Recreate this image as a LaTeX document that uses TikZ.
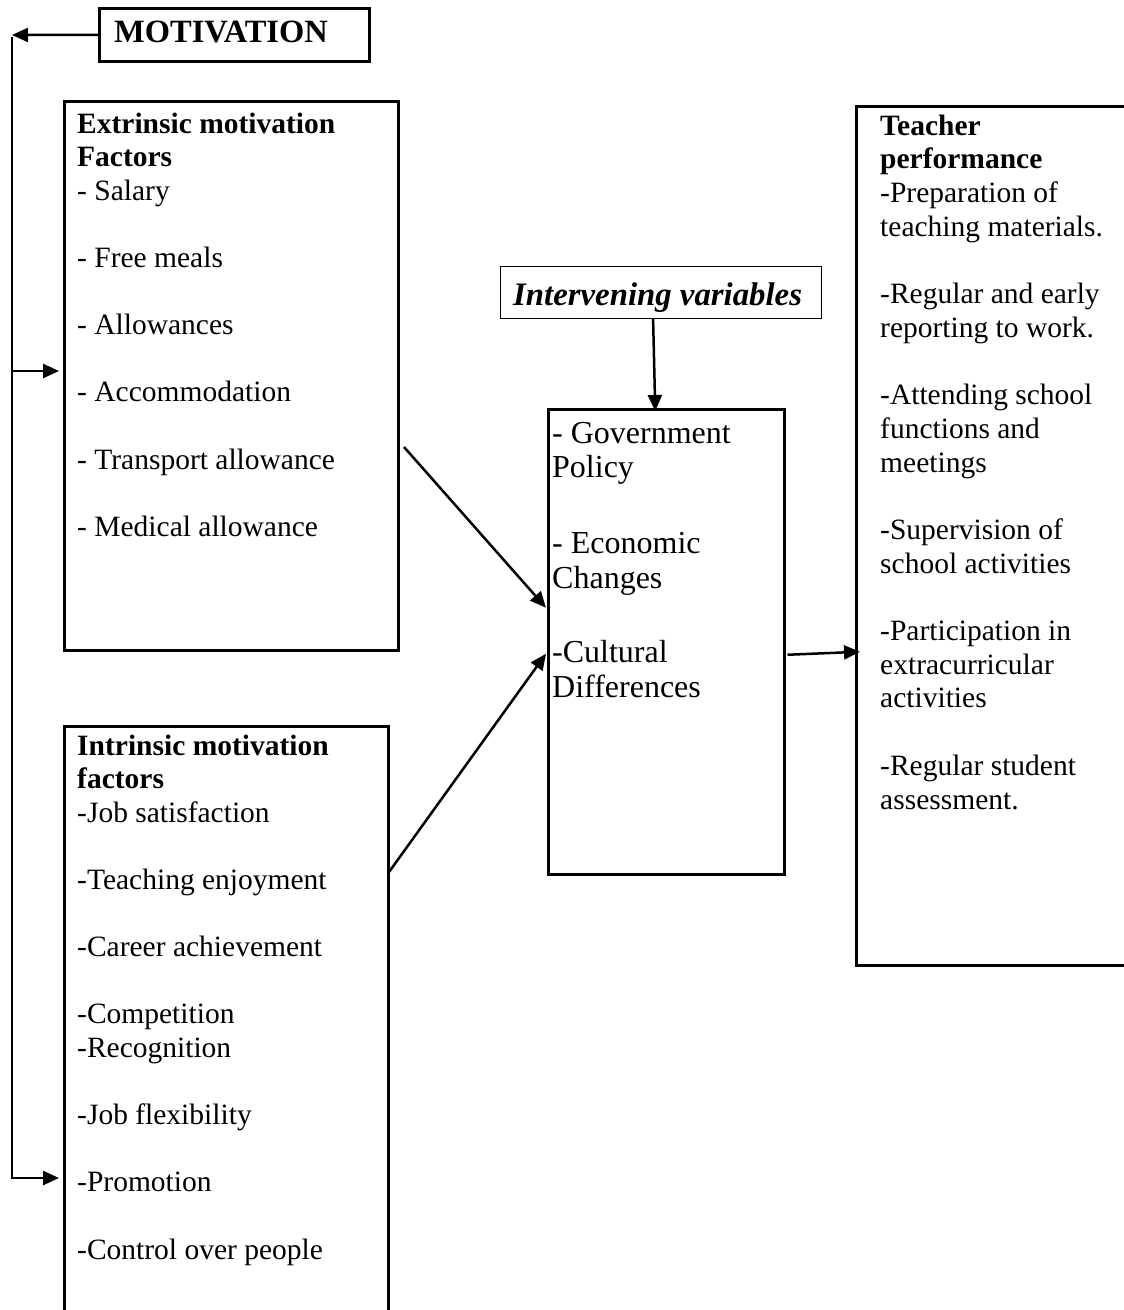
\documentclass[tikz,border=0pt]{standalone}
\usepackage{fontspec}
\setmainfont{Liberation Serif}
\usetikzlibrary{arrows.meta,calc}
\begin{document}
\begin{tikzpicture}[x=1pt,y=-1pt,
  box/.style={draw, line width=2.5pt, inner sep=0pt, anchor=north west},
  thinbox/.style={draw, line width=1.2pt, inner sep=0pt, anchor=north west},
  txt/.style={anchor=base west, inner sep=0pt, font=\fontsize{29.5}{33}\selectfont},
  midtxt/.style={anchor=base west, inner sep=0pt, font=\fontsize{32}{35}\selectfont},
  arr/.style={line width=2.5pt, -{Triangle[length=16pt,width=14pt]}},
  ]
\useasboundingbox (0,0) rectangle (1124,1310);
\clip (0,0) rectangle (1124,1310);

% boxes
\node[box, minimum width=270pt, minimum height=53pt] (mot) at (98,7) {};
\node[box, minimum width=334pt, minimum height=549pt] (ext) at (63,100) {};
\node[box, minimum width=324pt, minimum height=620pt] (intr) at (63,725) {};
\node[box, minimum width=236pt, minimum height=465pt] (mid) at (547,408) {};
\node[thinbox, minimum width=321pt, minimum height=52pt] (interv) at (500,266) {};
\node[box, minimum width=300pt, minimum height=859pt] (teach) at (855,105) {};

% titles
\node[anchor=base west, inner sep=0pt, font=\fontsize{32.5}{35}\selectfont\bfseries] (motlabel) at (114,42) {MOTIVATION};
\node[anchor=base west, inner sep=0pt, font=\fontsize{32.8}{35}\selectfont\bfseries\itshape] (intervlabel) at (513,305) {Intervening variables};

% extrinsic
\foreach \i/\t in {0/\textbf{Extrinsic motivation}, 1/\textbf{Factors}, 2/- Salary, 4/- Free meals, 6/- Allowances, 8/- Accommodation, 10/- Transport allowance, 12/- Medical allowance}
  \node[txt] (ext-\i) at (77, 133+33.6*\i) {\t};

% intrinsic
\foreach \i/\t in {0/\textbf{Intrinsic motivation}, 1/\textbf{factors}, 2/-Job satisfaction, 4/-Teaching enjoyment, 6/-Career achievement, 8/-Competition, 9/-Recognition, 11/-Job flexibility, 13/-Promotion, 15/-Control over people}
  \node[txt] (int-\i) at (77, 755+33.6*\i) {\t};

% middle
\foreach \y/\t [count=\i] in {443/- Government, 477/Policy, 553/- Economic, 588/Changes, 662/-Cultural, 697/Differences}
  \node[midtxt] (mid-\i) at (552, \y) {\t};

% teacher performance
\foreach \i/\t in {0/\textbf{Teacher}, 1/\textbf{performance}, 2/-Preparation of, 3/teaching materials., 5/-Regular and early, 6/reporting to work., 8/-Attending school, 9/functions and, 10/meetings, 12/-Supervision of, 13/school activities, 15/-Participation in, 16/extracurricular, 17/activities, 19/-Regular student, 20/assessment.}
  \node[txt] (tp-\i) at (880, 135+33.7*\i) {\t};

% connectors
\coordinate (tl) at (12,35);
\draw[arr] (mot.west) -- (tl);
\coordinate (vtop) at (12,37);
\coordinate (vbot) at (12,1179);
\draw[line width=1.2pt] (vtop) -- (vbot);
\coordinate (e1) at (12,371);
\draw[arr, shorten >=4pt] (e1) -- (e1 -| ext.west);
\coordinate (e2) at (12,1178);
\draw[arr, shorten >=4pt] (e2) -- (e2 -| intr.west);
\draw[arr] ($(interv.south)+(-8,0)$) -- ($(mid.north)+(-11,3)$);
\coordinate (d1) at (404,447);
\draw[arr] (d1) -- ($(mid.west)+(-1,-34)$);
\coordinate (d2) at (389,872);
\draw[arr] (d2) -- ($(mid.west)+(-1,12)$);
\draw[arr] ($(mid.east)+(2,13)$) -- ($(teach.west)+(5,116)$);
\end{tikzpicture}
\end{document}
